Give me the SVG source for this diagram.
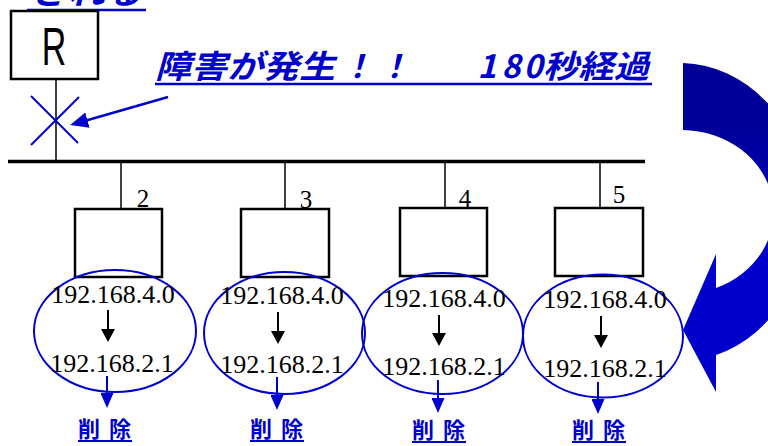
<svg xmlns="http://www.w3.org/2000/svg" width="768" height="446" viewBox="0 0 768 446">
<style>
.ttl{font-family:"Noto Sans CJK JP","Noto Sans",sans-serif;font-weight:bold;font-style:italic;font-size:32px;fill:#0000CC}
.box{fill:#fff;stroke:#000;stroke-width:2.5}
.drop{stroke:#000;stroke-width:1.5}
.num{font-family:"Liberation Serif",serif;font-size:25px;fill:#000;text-anchor:middle}
.ip{font-family:"Liberation Serif",serif;font-size:26px;fill:#000;text-anchor:middle}
.ell{fill:none;stroke:#0000CC;stroke-width:2}
.del{font-family:"Noto Sans CJK JP",sans-serif;font-weight:bold;font-size:22px;fill:#0000CC}
.bk{stroke:#000;stroke-width:2;marker-end:url(#ab)}
.bl{stroke:#0000CC;stroke-width:2;marker-end:url(#au)}
.ul{stroke:#0000CC;stroke-width:2.5}
.dul{stroke:#0000CC;stroke-width:2}
</style>
<defs>
<marker id="ab" viewBox="0 0 13 14" refX="9" refY="7" markerWidth="13" markerHeight="14" markerUnits="userSpaceOnUse" orient="auto"><path d="M0,0 L13,7 L0,14 z" fill="#000"/></marker>
<marker id="au" viewBox="0 0 15 13" refX="11" refY="6.5" markerWidth="15" markerHeight="13" markerUnits="userSpaceOnUse" orient="auto"><path d="M0,0 L15,6.5 L0,13 z" fill="#0000CC"/></marker>
<marker id="ax" viewBox="0 0 18 16" refX="14" refY="8" markerWidth="18" markerHeight="16" markerUnits="userSpaceOnUse" orient="auto"><path d="M0,0 L18,8 L0,16 z" fill="#0000CC"/></marker>
<linearGradient id="g" gradientUnits="userSpaceOnUse" x1="0" y1="130" x2="0" y2="260"><stop offset="0" stop-color="#000099"/><stop offset="1" stop-color="#0000CC"/></linearGradient>
</defs>
<rect width="768" height="446" fill="#fff"/>

<g id="top-text">
<text class="ttl" x="30" y="4" textLength="112" lengthAdjust="spacingAndGlyphs">される</text>
<line class="ul" x1="27" y1="10" x2="146" y2="10"/>
</g>

<g id="title">
<text class="ttl" x="155" y="78" textLength="180" lengthAdjust="spacingAndGlyphs">障害が発生</text>
<text class="ttl" x="357" y="78" text-anchor="middle">！</text>
<text class="ttl" x="394" y="78" text-anchor="middle">！</text>
<text class="ttl" y="78" text-anchor="middle"><tspan x="487">1</tspan><tspan x="511">8</tspan><tspan x="533">0</tspan></text>
<text class="ttl" x="543" y="78" textLength="106" lengthAdjust="spacingAndGlyphs">秒経過</text>
<line class="ul" x1="155" y1="84" x2="652" y2="84"/>
</g>

<g id="router">
<rect class="box" x="11" y="11" width="87" height="68"/>
<text transform="translate(54,65) scale(0.64,1)" x="0" y="0" text-anchor="middle" font-family="Liberation Sans, sans-serif" font-size="53" fill="#000">R</text>
</g>

<g id="curved-arrow">
<path d="M683,63 A128,149 0 0 1 716,355 L716,392 L683,330 L716,254 L716,288 A92,82 0 0 0 683,130 Z" fill="url(#g)"/>
</g>

<g id="connectors">
<line x1="56" y1="79" x2="56" y2="160" class="drop"/>
<line x1="8" y1="161.5" x2="645" y2="161.5" stroke="#000" stroke-width="3.5"/>
<line x1="121" y1="161" x2="121" y2="209" class="drop"/>
<line x1="285" y1="161" x2="285" y2="209" class="drop"/>
<line x1="445" y1="161" x2="445" y2="208" class="drop"/>
<line x1="600" y1="161" x2="600" y2="208" class="drop"/>
<line x1="31" y1="96" x2="78" y2="143" stroke="#0000CC" stroke-width="2"/>
<line x1="79" y1="97" x2="31" y2="145" stroke="#0000CC" stroke-width="2"/>
<line x1="168" y1="97" x2="74" y2="124" stroke="#0000CC" stroke-width="2.5" marker-end="url(#ax)"/>
<line class="bk" x1="108" y1="310" x2="108" y2="338"/>
<line class="bk" x1="278" y1="312" x2="278" y2="340"/>
<line class="bk" x1="439" y1="315" x2="439" y2="342"/>
<line class="bk" x1="601" y1="316" x2="601" y2="344"/>
<line class="bl" x1="107" y1="376" x2="107" y2="404"/>
<line class="bl" x1="277" y1="377" x2="277" y2="406"/>
<line class="bl" x1="438" y1="380" x2="438" y2="409"/>
<line class="bl" x1="598" y1="382" x2="598" y2="410"/>
</g>

<g id="node2">
<rect class="box" x="75" y="209" width="87" height="68"/>
<text class="num" x="143" y="207">2</text>
<ellipse class="ell" cx="115" cy="331" rx="81" ry="61"/>
<text class="ip" x="113" y="303">192.168.4.0</text>
<text class="ip" x="112" y="372">192.168.2.1</text>
<text class="del" y="437"><tspan x="78">削</tspan><tspan x="109">除</tspan></text>
<line class="dul" x1="78" y1="441" x2="132" y2="441"/>
</g>

<g id="node3">
<rect class="box" x="241" y="209" width="88" height="68"/>
<text class="num" x="306" y="208">3</text>
<ellipse class="ell" cx="284.5" cy="333" rx="80.5" ry="61"/>
<text class="ip" x="282" y="304">192.168.4.0</text>
<text class="ip" x="282" y="373">192.168.2.1</text>
<text class="del" y="437"><tspan x="250">削</tspan><tspan x="281">除</tspan></text>
<line class="dul" x1="250" y1="441" x2="304" y2="441"/>
</g>

<g id="node4">
<rect class="box" x="400" y="208" width="87" height="68"/>
<text class="num" x="465" y="207">4</text>
<ellipse class="ell" cx="442.5" cy="333.5" rx="80.5" ry="60.5"/>
<text class="ip" x="444" y="307">192.168.4.0</text>
<text class="ip" x="444" y="375">192.168.2.1</text>
<text class="del" y="438"><tspan x="412">削</tspan><tspan x="443">除</tspan></text>
<line class="dul" x1="412" y1="442" x2="466" y2="442"/>
</g>

<g id="node5">
<rect class="box" x="555" y="208" width="88" height="68"/>
<text class="num" x="619" y="203">5</text>
<ellipse class="ell" cx="603" cy="336" rx="80" ry="61.5"/>
<text class="ip" x="605" y="308">192.168.4.0</text>
<text class="ip" x="605" y="377">192.168.2.1</text>
<text class="del" y="438"><tspan x="572">削</tspan><tspan x="603">除</tspan></text>
<line class="dul" x1="572" y1="442" x2="626" y2="442"/>
</g>
</svg>
